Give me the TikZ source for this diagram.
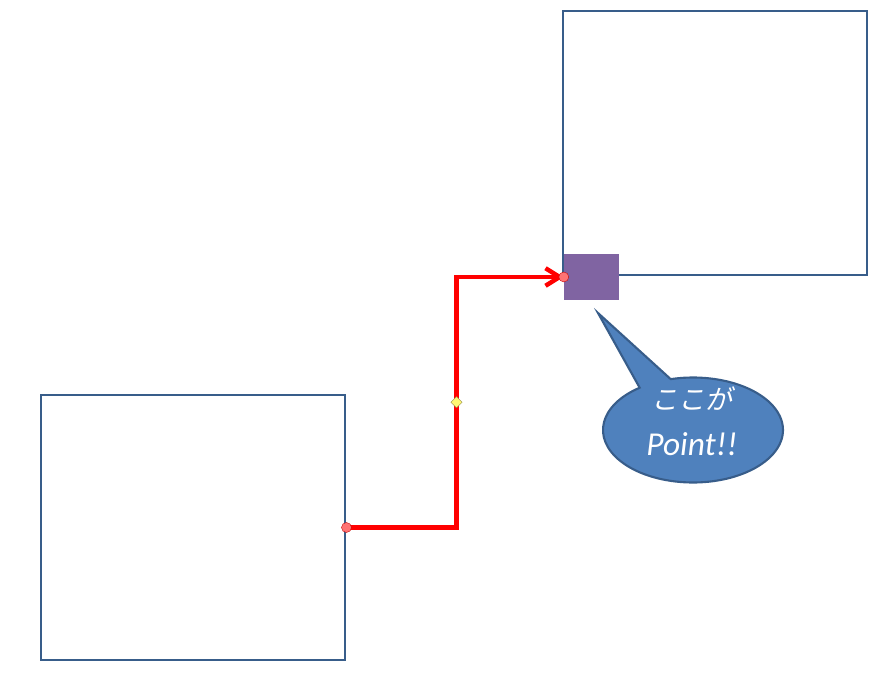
\documentclass[tikz,border=0pt]{standalone}
\usepackage{fontspec}
\setmainfont{Carlito}
\newfontfamily\jpfont{Noto Sans CJK JP}[FakeSlant=0.2]
\usetikzlibrary{positioning, arrows.meta, shapes.geometric, shapes.callouts}
\definecolor{FrameBlue}{RGB}{56,93,138}
\definecolor{CalloutBlue}{RGB}{79,129,189}
\definecolor{PointPurple}{RGB}{128,100,162}
\definecolor{LinkRed}{RGB}{255,0,0}
\tikzset{
  framebox/.style={draw=FrameBlue, line width=2.5pt, minimum width=9.12cm, minimum height=7.95cm, inner sep=0pt},
  pointbox/.style={fill=PointPurple, minimum width=1.65cm, minimum height=1.38cm, inner sep=0pt},
  link/.style={-{Straight Barb[length=12pt, width=15pt]}, line width=3.8pt, LinkRed},
  endpt/.style={circle, fill=red!55!white, draw=red!75!black, line width=0.3pt, minimum size=0.3cm, inner sep=0pt},
  handle/.style={diamond, fill=yellow!55, draw=yellow!50!black, line width=0.3pt, minimum size=0.34cm, inner sep=0pt},
}
\begin{document}
\begin{tikzpicture}[x=0.03cm, y=-0.03cm,
    talk/.style={ellipse callout, draw=FrameBlue, fill=CalloutBlue, line width=1.8pt,
      minimum width=5.4cm, minimum height=3.15cm, inner sep=0pt, callout pointer arc=22},
    talktext/.style={text=white, align=center, inner sep=0pt, font=\fontsize{28.5}{39}\selectfont\itshape}]
  \useasboundingbox (0,0) rectangle (892,679);
  \node[framebox] (lbox) at (193,527.5) {};
  \node[framebox, minimum height=7.92cm] (rbox) at (715,143) {};
  \node[pointbox] (pt) at (591.5,277) {};
  % elbow connector with its handle
  \draw[link] (lbox.east) -- ++(110,0) |- node[pos=0.25, handle] (mid) {} (pt.west);
  \node[endpt] (start) at (lbox.east) {};
  \node[endpt] (stop) at (pt.west) {};
  % callout
  \coordinate (tip) at (598,313);
  \node[talk, callout absolute pointer=(tip)] (note) at (693,430) {};
  \node[talktext] (notetext) at (692,421)
    {{\jpfont\fontsize{23}{39}\selectfont ここが}\\Point!!};
\end{tikzpicture}
\end{document}
